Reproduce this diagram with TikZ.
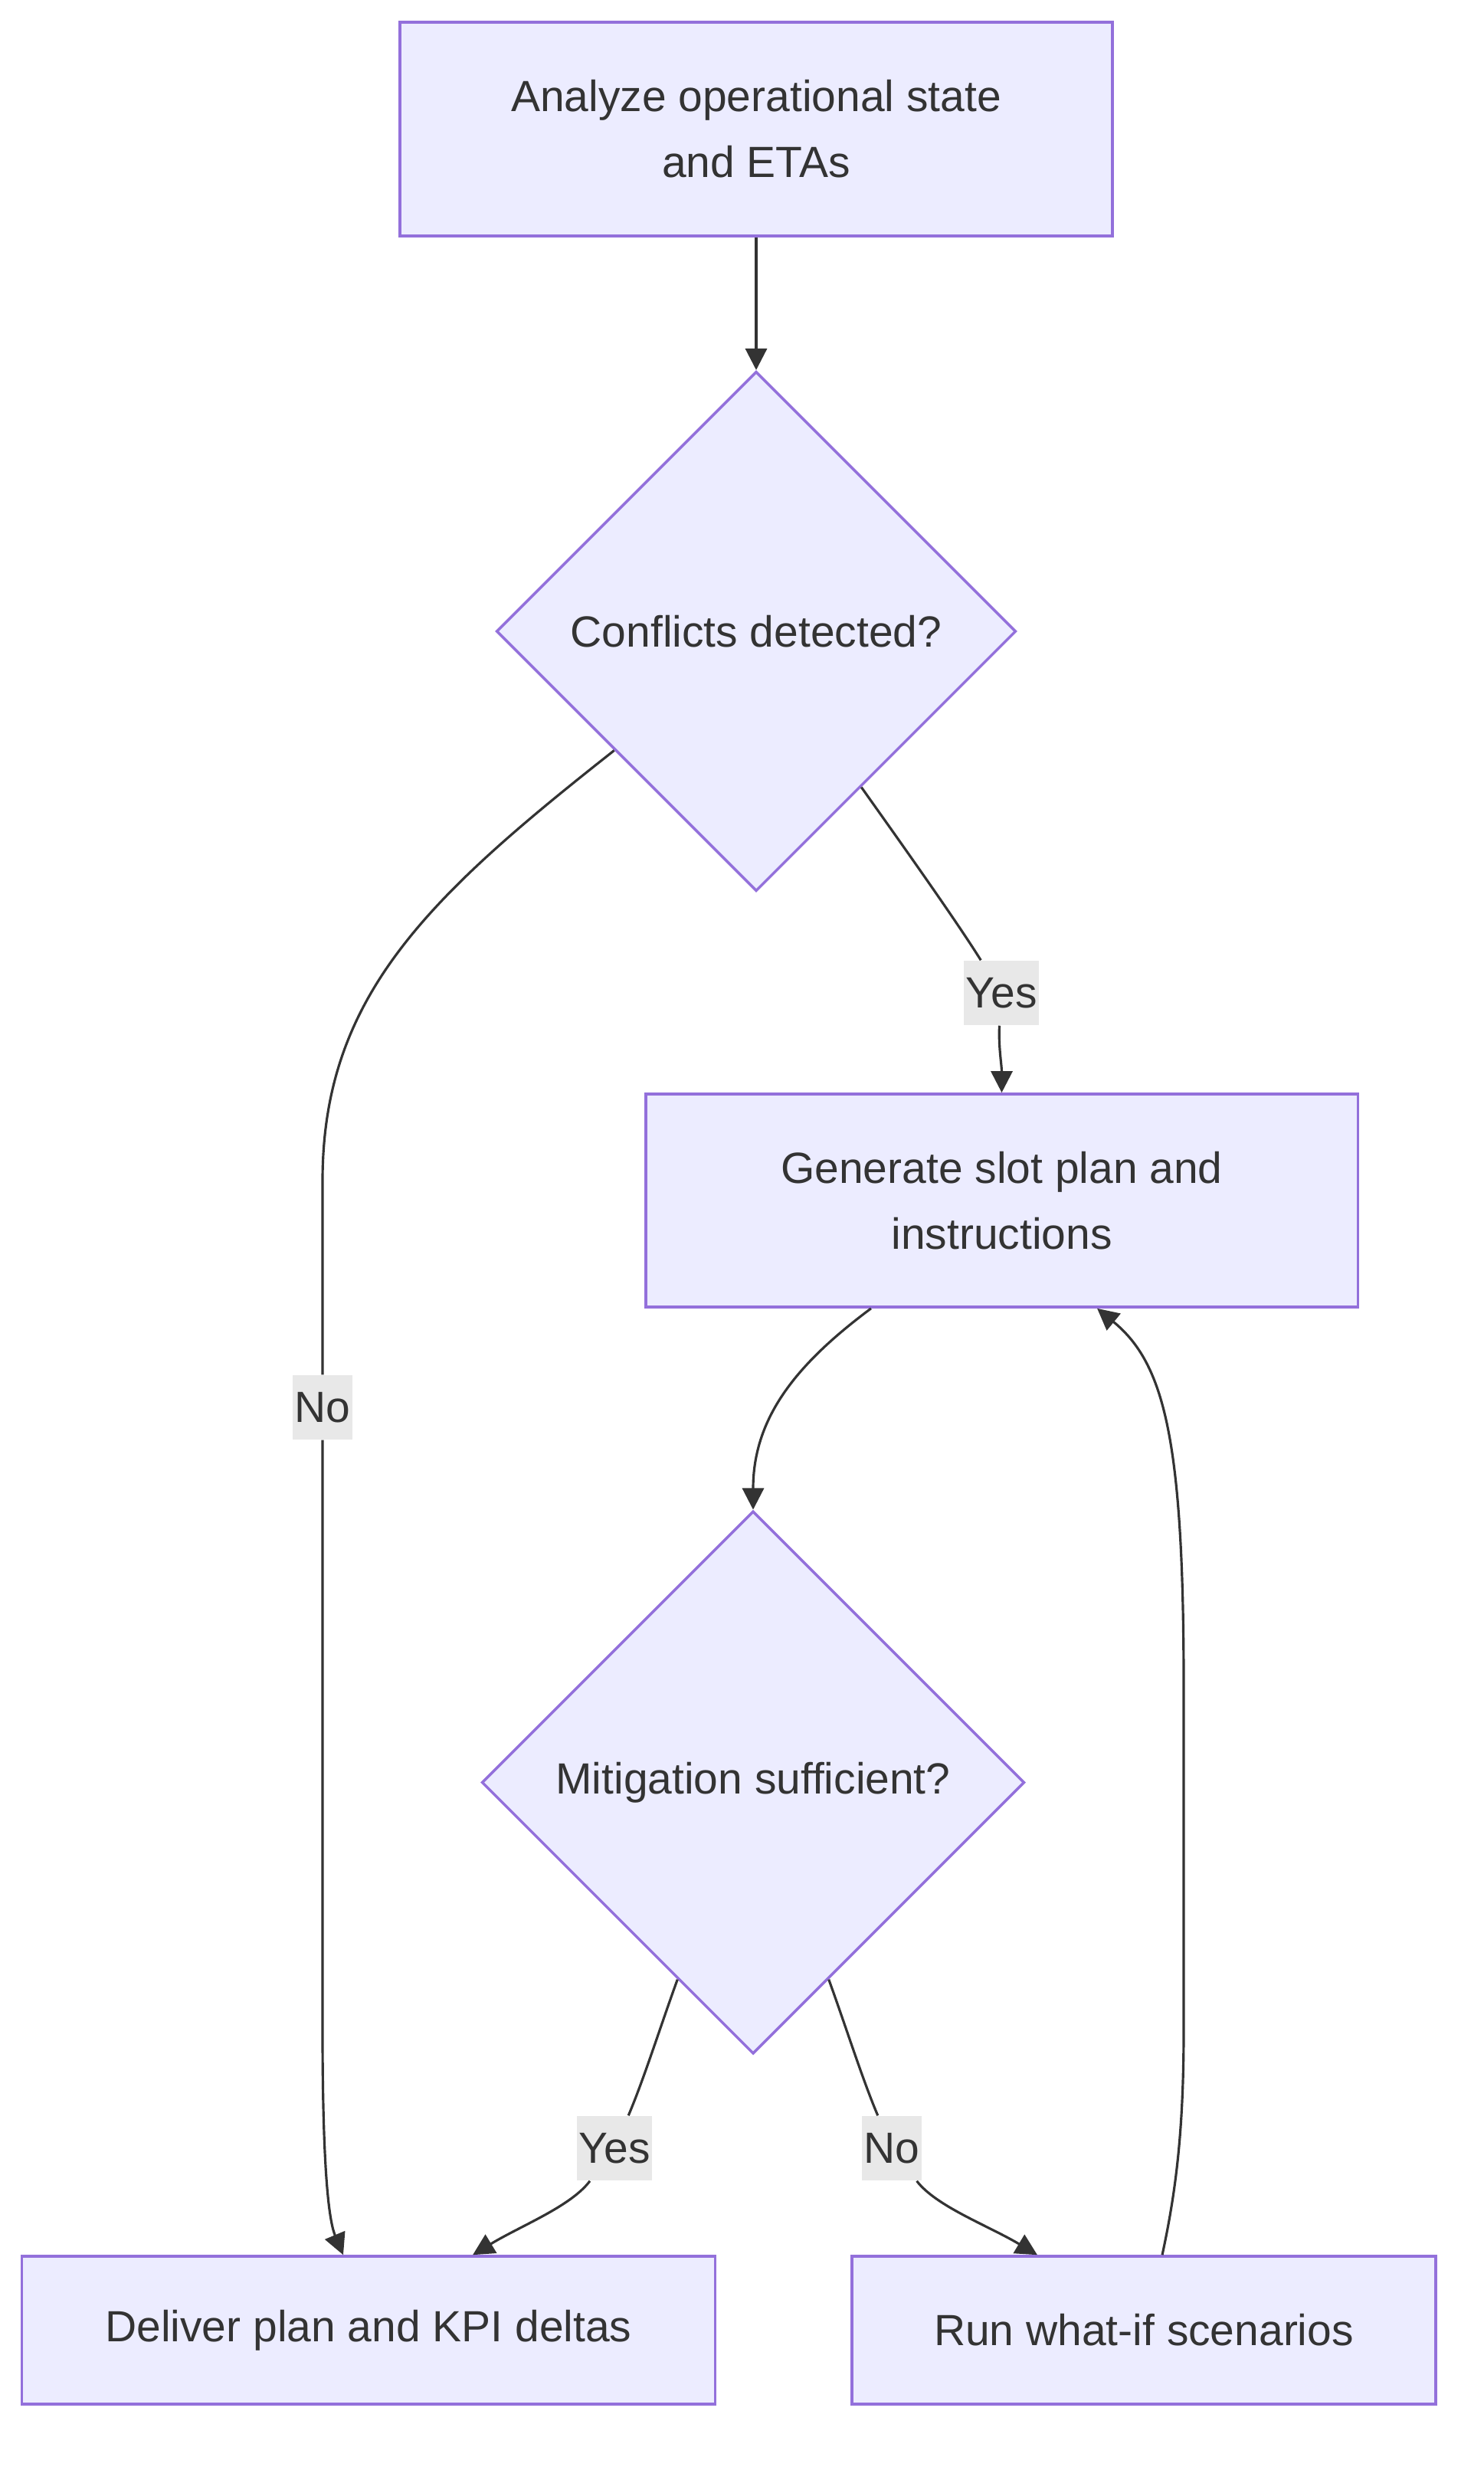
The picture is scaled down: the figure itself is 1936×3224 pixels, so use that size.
\documentclass[tikz,border=0pt]{standalone}
\usepackage{fontspec}
\setmainfont{Liberation Sans}
\usepackage{xcolor}
\usetikzlibrary{positioning, arrows.meta, shapes.geometric}
\definecolor{nodefill}{HTML}{ECECFF}
\definecolor{nodeline}{HTML}{9370DB}
\definecolor{inkgray}{HTML}{333333}
\definecolor{labelfill}{HTML}{E8E8E8}

\begin{document}
\begin{tikzpicture}[x=0.01cm, y=-0.01cm,
    every node/.style={font=\fontsize{16.2}{24.5}\selectfont, text=inkgray},
    process/.style={draw=nodeline, fill=nodefill, line width=1pt, align=center, inner sep=0pt},
    decision/.style={diamond, aspect=1, draw=nodeline, fill=nodefill, line width=1pt, inner sep=0pt},
    edgelabel/.style={fill=labelfill, inner xsep=0.6pt, inner ysep=0pt, minimum height=0.84cm},
    flow/.style={draw=inkgray, line width=0.9pt, -{Triangle[length=0.28cm, width=0.28cm]}}]
    \useasboundingbox (0,0) rectangle (1936,3224);

    % Boxes and decisions
    \node[process, minimum width=9.29cm, minimum height=2.79cm] (analyze) at (987,168.5)
        {Analyze operational state\\and ETAs};
    \node[decision, minimum width=6.78cm, minimum height=6.78cm] (conflicts) at (987,824)
        {Conflicts detected?};
    \node[process, minimum width=9.29cm, minimum height=2.78cm] (generate) at (1307.5,1567)
        {Generate slot plan and\\instructions};
    \node[decision, minimum width=7.08cm, minimum height=7.08cm] (mitigation) at (983,2326.5)
        {Mitigation sufficient?};
    \node[process, minimum width=9.04cm, minimum height=1.93cm] (deliver) at (481,3041.5)
        {Deliver plan and KPI deltas};
    \node[process, minimum width=7.62cm, minimum height=1.93cm] (whatif) at (1493,3041.5)
        {Run what-if scenarios};

    % Edge labels
    \node[edgelabel] (yesgen) at (1307,1296) {Yes};
    \node[edgelabel] (nodeliver) at (421,1837) {No};
    \node[edgelabel] (yesdeliver) at (802,2804) {Yes};
    \node[edgelabel] (nowhatif) at (1164,2804) {No};

    % Connectors
    \draw[flow] (analyze) -- (conflicts);
    \draw[flow] (conflicts.-56) .. controls (1190,1120) and (1250,1205) .. (yesgen)
        .. controls (1303,1365) and (1307.5,1390) .. (generate);
    \draw[flow] (conflicts.220) .. controls (560,1170) and (421,1300) .. (421,1541)
        -- (nodeliver) -- (421,2650) .. controls (421,2860) and (432,2905) .. ([xshift=-0.33cm]deliver.north);
    \draw[flow] ([xshift=-1.705cm]generate.south) .. controls (1040,1780) and (983,1850) .. (mitigation);
    \draw[flow] (mitigation.249) .. controls (862,2645) and (840,2715) .. (yesdeliver)
        .. controls (745,2880) and (680,2905) .. ([xshift=1.36cm]deliver.north);
    \draw[flow] (mitigation.-69) .. controls (1104,2645) and (1126,2715) .. (nowhatif)
        .. controls (1222,2880) and (1290,2905) .. ([xshift=-1.39cm]whatif.north);
    \draw[flow] ([xshift=0.24cm]whatif.north) .. controls (1535,2860) and (1545,2780) .. (1545,2650)
        -- (1545,2200) .. controls (1545,1880) and (1520,1780) .. ([xshift=1.245cm]generate.south);
\end{tikzpicture}
\end{document}
